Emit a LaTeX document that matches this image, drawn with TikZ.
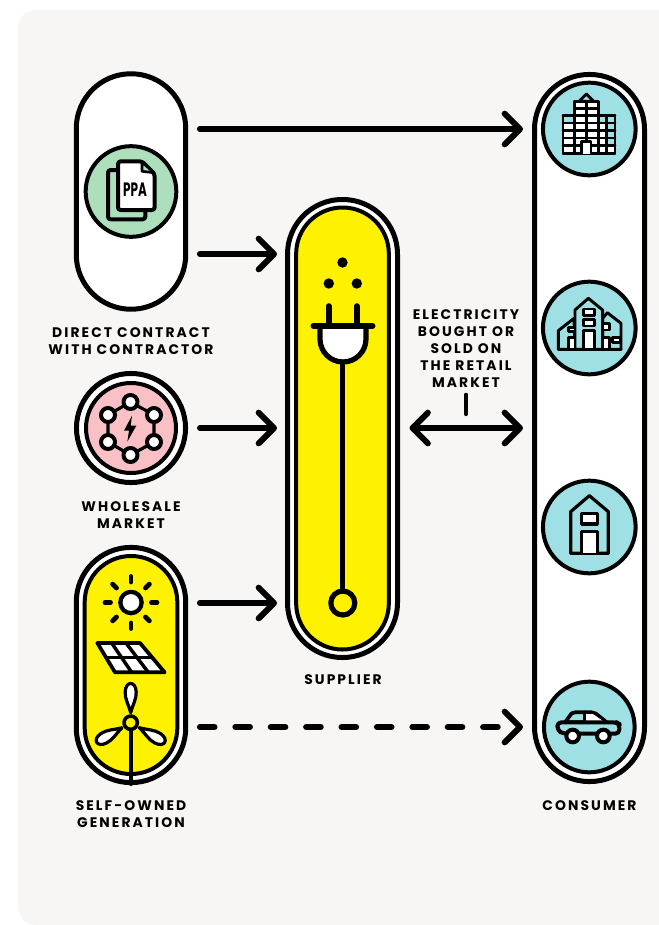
\documentclass[tikz,border=0pt]{standalone}
\usepackage{fontspec}
\usepackage{graphicx}
\setmainfont{Poppins}
\newfontfamily\lblfont[LetterSpace=15]{Poppins}
\usetikzlibrary{arrows.meta,calc}
\definecolor{bgc}{HTML}{F7F6F4}
\definecolor{yel}{HTML}{FFF200}
\definecolor{grn}{HTML}{AEDFBD}
\definecolor{pnk}{HTML}{F9C0C6}
\definecolor{tea}{HTML}{9FE0E4}
\tikzset{
 box/.style={draw=black,inner sep=0pt,outer sep=0pt,line join=round},
 outerline/.style={box,line width=3.75pt,fill=white},
 innerline/.style={box,line width=3pt},
 icon/.style={draw=black,line width=#1,line join=round,line cap=round},
 icon/.default=2.4pt,
 lbl/.style={inner sep=0pt,outer sep=0pt,align=center,font=\lblfont\bfseries\fontsize{10.4pt}{12.75pt}\selectfont},
 flow/.style={draw=black,line width=4.5pt,line cap=round,-{Straight Barb[round,length=11.5pt,width=23pt,line cap=round]}},
 flowboth/.style={draw=black,line width=4.5pt,line cap=round,{Straight Barb[round,length=11.5pt,width=23pt,line cap=round]}-{Straight Barb[round,length=11.5pt,width=23pt,line cap=round]}},
 dashflow/.style={flow,dash pattern=on 10.95pt off 15.6pt},
 tick/.style={draw=black,line width=3.4pt,line cap=round},
}
\begin{document}
\begin{tikzpicture}[x=0.75pt,y=-0.75pt]
\useasboundingbox (0,0) rectangle (659,925);
\fill[white] (0,0) rectangle (659,925);
\fill[bgc,rounded corners=13.5pt] (18,10) -- (680,10) -- (680,925) -- (18,925) -- cycle;

% direct contract
\node[outerline,minimum width=82.1pt,minimum height=176.6pt,rounded corners=41pt] (direct) at (131,191.5) {};
\node[innerline,circle,fill=grn,minimum size=68pt] (ppa) at (131,191.5) {};
\begin{scope}[shift={(60,70)},x=.25pt,y=-.25pt]
 \filldraw[icon=3pt,fill=grn,rounded corners=2pt] (144,300) rectangle (256,448);
 \filldraw[icon=3pt,fill=white,rounded corners=2pt] (174,274) -- (246,274) -- (284,312) -- (284,420) -- (174,420) -- cycle;
 \filldraw[icon=2pt,fill=grn] (246,276) -- (246,304) -- (282,308) -- cycle;
\end{scope}
\node[inner sep=0pt,font=\bfseries\fontsize{14.5pt}{15pt}\selectfont] (ppatxt) at (135,190) {\scalebox{.62}[1]{PPA}};
\node[lbl] (directlbl) at (131,341) {DIRECT CONTRACT\\WITH CONTRACTOR};

% wholesale
\node[outerline,circle,minimum size=81.8pt] (whole) at (131,428) {};
\node[innerline,circle,fill=pnk,minimum size=67.5pt] (wholein) at (131,428) {};
\draw[icon=2.4pt] (130.5,402) -- (108,415) -- (108,442) -- (130.5,455) -- (154,442) -- (154,415) -- cycle;
\foreach \n/\x/\y in {a/130.5/402,b/108/415,c/108/442,d/130.5/455,e/154/442,f/154/415}
 \node[box,circle,fill=white,line width=3pt,minimum size=10.5pt] (hub\n) at (\x,\y) {};
\begin{scope}[shift={(60,365)},x=.25pt,y=-.25pt]
 \fill (216,152) -- (192,197) -- (207,197) -- (202,230) -- (229,182) -- (212,182) -- cycle;
\end{scope}
\node[lbl] (wholelbl) at (131,515) {WHOLESALE\\MARKET};

% self-owned
\node[outerline,minimum width=82.1pt,minimum height=176.4pt,rounded corners=41pt] (self) at (131,665) {};
\node[innerline,fill=yel,minimum width=69.5pt,minimum height=163.5pt,rounded corners=34.7pt] (selfin) at (131,665) {};
% sun
\node[box,circle,fill=white,line width=3.2pt,minimum size=16pt] (sun) at (131,602.5) {};
\foreach \a in {0,45,...,315}
 \draw[icon=3.6pt] (131,602.5) ++(\a:20.5) -- ++(\a:5.5);
% panel
\begin{scope}[shift={(60,540)},x=.25pt,y=-.25pt]
 \filldraw[icon=2.8pt,fill=white] (112,309) -- (240,309) -- (314,397) -- (165,397) -- cycle;
 \draw[icon=2.6pt] (138,353) -- (277,353);
 \draw[icon=2.6pt] (155,309) -- (215,397);
 \draw[icon=2.6pt] (198,309) -- (265,397);
\end{scope}
% turbine
\draw[icon=3pt] (130.7,730) -- (130.7,784);
\foreach \a in {0,120,240}
 \filldraw[icon=2.4pt,fill=white,shift={(130.7,722.7)},rotate=\a] (0,-10) .. controls (-2,-18) and (-6,-24) .. (-5.5,-31) .. controls (-5,-42) and (5,-42) .. (5.5,-31) .. controls (6,-24) and (2,-18) .. (0,-10) -- cycle;
\node[box,circle,fill=yel,line width=2.7pt,minimum size=10pt] (hubt) at (130.7,722.7) {};
\node[lbl] (selflbl) at (131,814) {SELF-OWNED\\GENERATION};

% supplier
\node[outerline,minimum width=82.5pt,minimum height=343.5pt,rounded corners=41pt] (supplier) at (342.5,428.5) {};
\node[innerline,fill=yel,minimum width=69.5pt,minimum height=331.5pt,rounded corners=34.7pt] (supplierin) at (342.5,428.5) {};
\fill (342.5,262.5) circle[radius=5.2];
\fill (328.8,283.5) circle[radius=5.2];
\fill (356.8,283.5) circle[radius=5.2];
\draw[icon=4.2pt] (328.8,306) -- (328.8,325);
\draw[icon=4.2pt] (356.8,306) -- (356.8,325);
\filldraw[icon=3.9pt,fill=white] (320,326) -- (320,339) arc[start angle=180,end angle=0,radius=23] -- (366,326) -- cycle;
\draw[icon=4.5pt] (313.5,325.7) -- (372.5,325.7);
\draw[icon=3.9pt] (342.8,362) -- (342.8,592);
\node[box,circle,fill=yel,line width=3.9pt,minimum size=18pt] (plugend) at (342.8,603) {};
\node[lbl] (supplierlbl) at (343,679.5) {SUPPLIER};

% consumer
\node[outerline,minimum width=82.5pt,minimum height=530.3pt,rounded corners=41pt] (consumer) at (589.5,428) {};
\foreach \n/\y/\s in {a/129/69.5,b/328/69.5,c/527/69.5,d/727/68}
 \node[innerline,circle,fill=tea,minimum size=\s pt] (cons\n) at (589.3,\y) {};
% office
\begin{scope}[shift={(555,88)},x=.25pt,y=-.25pt]
 \filldraw[icon=2.2pt,fill=tea] (72,40) -- (94,18) -- (116,40) -- cycle;
 \filldraw[icon=2.2pt,fill=white] (24,83) rectangle (180,197);
 \filldraw[icon=2.2pt,fill=white] (58,40) rectangle (130,197);
 \fill[tea] (24,83) rectangle (58,105);
 \fill[tea] (130,83) rectangle (155,105);
 \fill[tea] (155,83) rectangle (180,172);
 \draw[icon=2.2pt] (24,83) rectangle (180,197);
 \draw[icon=2.2pt] (58,40) rectangle (130,197);
 \draw[icon=2pt] (94,40) -- (94,160);
 \draw[icon=2pt] (155,83) -- (155,197);
 \draw[icon=2pt] (58,62) -- (130,62);
 \foreach \y in {83,105,127,150,172} \draw[icon=2pt] (24,\y) -- (180,\y);
 \filldraw[icon=2.2pt,fill=white] (80,197) -- (80,160) -- (108,160) -- (108,197);
\end{scope}
% apartment
\begin{scope}[shift={(550,290)},x=.25pt,y=-.25pt]
 \filldraw[icon=2.2pt,fill=tea] (25,178) -- (25,122) -- (72,85) -- (75,178) -- cycle;
 \filldraw[icon=2.2pt,fill=tea] (158,85) -- (172,68) -- (213,100) -- (213,178) -- (158,178) -- cycle;
 \filldraw[icon=2.2pt,fill=tea] (75,178) -- (75,60) -- (115,25) -- (158,60) -- (158,178) -- cycle;
 \foreach \a/\b/\c/\d in {100/57/133/77,100/88/133/108,100/122/133/178,55/112/75/125,55/142/75/178,158/100/178/120,158/142/178/178,188/142/212/158}
  \filldraw[icon=2pt,fill=white] (\a,\b) rectangle (\c,\d);
 \draw[icon=2.2pt] (25,178) -- (213,178);
\end{scope}
% house
\begin{scope}[shift={(530,470)},x=.25pt,y=-.25pt]
 \filldraw[icon=2.4pt,fill=tea] (122,250) -- (122,125) -- (178,77) -- (235,125) -- (235,250) -- cycle;
 \filldraw[icon=2.4pt,fill=white] (155,130) rectangle (202,162);
 \filldraw[icon=2.4pt,fill=white] (155,250) -- (155,185) -- (202,185) -- (202,250);
\end{scope}
% car
\begin{scope}[shift={(550,700)},x=.25pt,y=-.25pt]
 \filldraw[icon=2.8pt,fill=tea] (45,67) -- (65,40) .. controls (68,37) and (70,37) .. (75,37) -- (125,37) .. controls (130,37) and (134,38) .. (138,41) -- (170,67) -- cycle;
 \fill[white] (106,42) -- (128,42) -- (162,65) -- (106,65) -- cycle;
 \draw[icon=2.6pt] (103,37) -- (103,67);
 \filldraw[icon=3pt,fill=tea,rounded corners=3pt] (22,67) -- (200,67) -- (208,72) -- (208,101) -- (38,101) -- (22,90) -- cycle;
 \filldraw[icon=3pt,fill=white] (68,108) circle[radius=19];
 \filldraw[icon=3pt,fill=white] (160,108) circle[radius=19];
\end{scope}
\node[lbl] (consumerlbl) at (589.5,805.5) {CONSUMER};

% retail label
\node[lbl] (retail) at (466,349) {ELECTRICITY\\BOUGHT OR\\SOLD ON\\THE RETAIL\\MARKET};

% connectors
\draw[flow] ($(direct.east)+(14.2,-62.5)$) -- ($(consumer.west)+(-11.5,-299)$);
\draw[flow] ($(direct.east)+(14.2,62.5)$) -- ($(supplier.west)+(-10.5,-174.5)$);
\draw[flow] ($(whole.east)+(14.5,0)$) -- ($(supplier.west)+(-10.5,-.5)$);
\draw[flow] ($(self.east)+(14.2,-62)$) -- ($(supplier.west)+(-10.5,174.5)$);
\draw[dashflow] ($(self.east)+(14.2,62)$) -- ($(consumer.west)+(-11.5,299)$);
\draw[flowboth] ($(supplier.east)+(12,-.5)$) -- ($(consumer.west)+(-11.5,0)$);
\draw[tick] ($(retail.south)+(0,7)$) -- ($(retail.south)+(0,26)$);
\end{tikzpicture}
\end{document}
